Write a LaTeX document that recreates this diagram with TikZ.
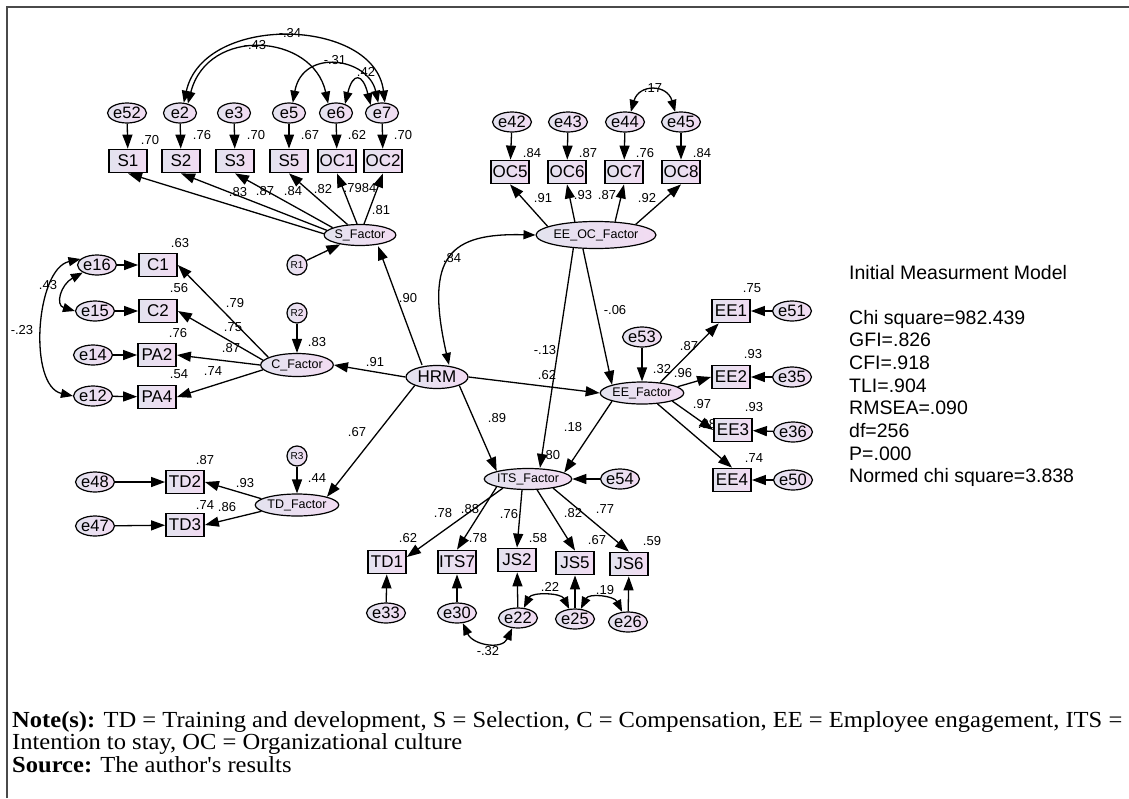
\documentclass[tikz,border=0pt]{standalone}
\usepackage{fontspec}
\usepackage{graphicx}
\setmainfont{Liberation Sans}
\newfontfamily\notefont{Liberation Serif}
\usetikzlibrary{arrows.meta,shapes.geometric}

\definecolor{fillL}{HTML}{E3E3EF}
\definecolor{fillR}{HTML}{F2DBF2}
\definecolor{framegray}{HTML}{4A4A4A}

\tikzset{
  nodebase/.style={draw=black, left color=fillL, right color=fillR, inner sep=0pt, line width=1.2pt},
  obs/.style={nodebase, rectangle, line width=1.8pt, minimum width=38pt, minimum height=23pt,
              font=\fontsize{17}{18}\selectfont},
  err/.style={nodebase, ellipse, minimum width=33pt, minimum height=20pt,
              font=\fontsize{16.5}{17}\selectfont},
  errw/.style={err, minimum width=38pt},
  lat/.style={nodebase, ellipse, minimum width=58pt, minimum height=22pt,
              font=\fontsize{12.5}{13}\selectfont},
  res/.style={nodebase, circle, minimum size=20pt, font=\fontsize{10}{11}\selectfont},
  lbl/.style={inner sep=0pt, font=\fontsize{13}{14}\selectfont},
  reg/.style={line width=1.3pt, -{Triangle[length=14pt,width=10pt]}},
  cov/.style={line width=1.3pt, {Triangle[length=12pt,width=9pt]}-{Triangle[length=12pt,width=9pt]}},
  stat/.style={anchor=base west, inner sep=0pt, font=\fontsize{19.5}{22}\selectfont},
}

\begin{document}
\begin{tikzpicture}[x=1pt,y=-1pt]
\useasboundingbox (0,0) rectangle (1129,798);
\fill[white] (0,0) rectangle (1129,798);
\draw[framegray, line width=2pt] (6.5,798) -- (6.5,7) -- (1129,7);

% label partly hidden behind EE3
\node[lbl] (l98) at (707,424) {.98};

% ---- Selection block
\node[err] (e52) at (127,113) {e52};
\node[err] (e2)  at (180,113) {e2};
\node[err] (e3)  at (234,113) {e3};
\node[err] (e5)  at (289,113) {e5};
\node[err] (e6)  at (336,113) {e6};
\node[err] (e7)  at (382,113) {e7};
\node[obs] (S1)  at (128,161) {S1};
\node[obs] (S2)  at (181,161) {S2};
\node[obs] (S3)  at (235,161) {S3};
\node[obs] (S5)  at (289,161) {S5};
\node[obs] (OC1) at (337,161) {OC1};
\node[obs] (OC2) at (383,161) {OC2};
\node[lat, minimum width=57pt, minimum height=21pt] (SF) at (360,235) {S\_Factor};
\node[res] (R1) at (297,265) {R1};

% ---- Compensation block
\node[errw] (e16) at (97,265) {e16};
\node[errw] (e15) at (95,311) {e15};
\node[errw] (e14) at (93,355) {e14};
\node[errw] (e12) at (93,396) {e12};
\node[obs] (C1)  at (158,265) {C1};
\node[obs] (C2)  at (158,311) {C2};
\node[obs] (PA2) at (157,355) {PA2};
\node[obs] (PA4) at (157,397) {PA4};
\node[lat, minimum height=23pt] (CF) at (297,365) {C\_Factor};
\node[res] (R2) at (297,313) {R2};

% ---- Training block
\node[err, minimum width=35pt] (e48) at (95,482) {e48};
\node[err, minimum width=35pt] (e47) at (95,526) {e47};
\node[obs] (TD2) at (185,482) {TD2};
\node[obs] (TD3) at (185,525) {TD3};
\node[lat, minimum width=60pt, minimum height=22pt] (TDF) at (297,505) {TD\_Factor};
\node[res] (R3) at (297,456) {R3};

% ---- HRM
\node[lat, minimum width=62pt, minimum height=23pt, font=\fontsize{17}{18}\selectfont] (HRM) at (437,377) {HRM};

% ---- Culture block
\node[err] (e42) at (512,122) {e42};
\node[err] (e43) at (568,122) {e43};
\node[err] (e44) at (625,122) {e44};
\node[err] (e45) at (681,122) {e45};
\node[obs] (OC5) at (510,172) {OC5};
\node[obs] (OC6) at (567,172) {OC6};
\node[obs] (OC7) at (624,172) {OC7};
\node[obs] (OC8) at (681,172) {OC8};
\node[lat, minimum width=84pt, minimum height=27pt] (EEOC) at (596,235) {EE\_OC\_Factor};

% ---- Engagement block
\node[lat] (EEF) at (642,393) {EE\_Factor};
\node[err] (e53) at (642,337) {e53};
\node[obs] (EE1) at (731,311) {EE1};
\node[obs] (EE2) at (731,377) {EE2};
\node[obs] (EE3) at (733,430) {EE3};
\node[obs] (EE4) at (732,480) {EE4};
\node[err] (e51) at (792,311) {e51};
\node[err] (e35) at (792,377) {e35};
\node[err] (e36) at (793,432) {e36};
\node[err] (e50) at (793,480) {e50};

% ---- Intention to stay block
\node[lat, minimum width=62pt, minimum height=21pt] (ITS) at (528,479) {ITS\_Factor};
\node[err] (e54) at (620,479) {e54};
\node[obs] (TD1)  at (387,562) {TD1};
\node[obs] (ITS7) at (457,562) {ITS7};
\node[obs] (JS2)  at (517,560) {JS2};
\node[obs] (JS5)  at (575,563) {JS5};
\node[obs] (JS6)  at (629,564) {JS6};
\node[err] (e33) at (386,613) {e33};
\node[err] (e30) at (457,613) {e30};
\node[err] (e22) at (518,618) {e22};
\node[err] (e25) at (575,619) {e25};
\node[err] (e26) at (628,622) {e26};

% ---- error terms to indicators
\foreach \e/\v in {e52/S1,e2/S2,e3/S3,e5/S5,e6/OC1,e7/OC2,
                   e16/C1,e15/C2,e14/PA2,e12/PA4,e48/TD2,e47/TD3,
                   e42/OC5,e43/OC6,e44/OC7,e45/OC8,
                   e51/EE1,e35/EE2,e36/EE3,e50/EE4,
                   e33/TD1,e30/ITS7,e22/JS2,e25/JS5,e26/JS6}
  \draw[reg] (\e) -- (\v);

% ---- loadings
\draw[reg] (SF.178) -- (S1.south);
\draw[reg] (SF.172) -- (S2.south);
\draw[reg] (SF.165) -- (S3.south);
\draw[reg] (SF.140) -- (S5.south);
\draw[reg] (SF.105) -- (OC1.south);
\draw[reg] (SF.70)  -- (OC2.south);
\draw[reg] (R1) -- (SF);

\draw[reg] (CF.165) -- (C1.east);
\draw[reg] (CF.172) -- (C2.east);
\draw[reg] (CF.west) -- (PA2.east);
\draw[reg] (CF.188) -- (PA4.east);
\draw[reg] (R2) -- (CF);

\draw[reg] (TDF.170) -- (TD2.east);
\draw[reg] (TDF.190) -- (TD3.east);
\draw[reg] (R3) -- (TDF);

\draw[reg] (EEOC.170) -- (OC5.south);
\draw[reg] (EEOC.148) -- (OC6.south);
\draw[reg] (EEOC.35)  -- (OC7.south);
\draw[reg] (EEOC.15)  -- (OC8.south);

\draw[reg] (EEF.30)  -- (EE1);
\draw[reg] (EEF.10)  -- (EE2.west);
\draw[reg] (EEF.-15) -- (EE3.west);
\draw[reg] (EEF.-35) -- (EE4.north);
\draw[reg] (e53) -- (EEF);

\draw[reg] (ITS.200) -- ([yshift=5pt]TD1.east);
\draw[reg] (ITS.south west) -- (ITS7.north);
\draw[reg] ([xshift=-6pt]ITS.south) -- (JS2.north);
\draw[reg] (ITS.-50) -- (JS5.north);
\draw[reg] (ITS.-20) -- (JS6.north);
\draw[reg] (e54) -- (ITS);

% ---- structural paths
\draw[reg] ([xshift=-15pt]HRM.north) -- ([xshift=18pt]SF.south);
\draw[reg] (HRM.west) -- (CF.east);
\draw[reg] (HRM.south west) -- (TDF.north east);
\draw[reg] (HRM.east) -- (EEF.west);
\draw[reg] (HRM.south east) -- (ITS.north west);
\draw[reg] (EEOC.-150) -- ([xshift=12pt]ITS.north);
\draw[reg] ([xshift=-13pt]EEOC.south) -- (EEF.north west);
\draw[reg] (EEF.south west) -- (ITS.10);

% ---- covariances
\draw[cov] (e2.70) .. controls +(20,-90) and +(-10,-85) .. (e7.75);
\draw[cov] (e2.50) .. controls +(20,-78) and +(-15,-70) .. (e6.130);
\draw[cov] (e5.70) .. controls +(10,-55) and +(-10,-45) .. (e7.110);
\draw[cov] (e6.45) .. controls +(8,-32) and +(-8,-32) .. (e7.145);
\draw[cov] (e44.60) .. controls +(8,-28) and +(-8,-28) .. (e45.120);
\draw[cov] (e16.south west) .. controls +(-22,12) and +(-20,-6) .. (e15.west);
\draw[cov] (e16.160) .. controls +(-45,10) and +(-45,-10) .. (e12.west);
\draw[cov] (e30.-60) .. controls +(10,22) and +(-10,22) .. (e22.-120);
\draw[cov] (e22.60) .. controls +(8,-16) and +(-8,-16) .. (e25.120);
\draw[cov] (e25.60) .. controls +(8,-16) and +(-8,-16) .. (e26.120);
\draw[cov] ([xshift=12pt]HRM.north) .. controls +(-25,-110) and +(-85,-2) .. (EEOC.west);

% ---- coefficient labels
\foreach \x/\y/\t [count=\i] in {
  150/140/.70, 202/135/.76, 256/135/.70, 310/135/.67, 357/135/.62, 403/135/.70,
  238/192/.83, 265/191/.87, 293/191/.84, 323/189/.82, 360/188/.7984, 381/210/.81,
  290/33/-.34, 255/45/-.43, 335/60/-.31, 366/72/.42,
  180/243/.63, 179/288/.56, 178/333/.76, 179/374/.54,
  235/303/.79, 233/327/.75, 231/348/.87, 213/371/.74, 317/342/.83,
  48/285/.43, 22/330/-.23,
  205/460/.87, 245/483/.93, 205/505/.74, 227/507/.86, 317/478/.44,
  408/298/.90, 375/362/.91, 357/432/.67, 547/375/.62, 497/418/.89, 452/258/.84,
  532/153/.84, 588/153/.87, 645/153/.76, 702/153/.84,
  543/198/.91, 583/195/.93, 607/195/.87, 647/198/.92, 653/88/.17,
  545/350/-.13, 615/310/-.06,
  662/369/.32, 689/346/.87, 683/373/.96, 702/404/.97,
  752/288/.75, 753/354/.93, 754/407/.93, 754/458/.74, 573/427/.18,
  551/455/.80, 408/538/.62, 478/538/.78, 538/538/.58, 597/540/.67, 652/541/.59,
  443/513/.78, 470/509/.88, 509/514/.76, 573/513/.82, 605/509/.77,
  488/651/-.32, 550/587/.22, 605/590/.19}
  \node[lbl] (lab\i) at (\x,\y) {\t};

% ---- fit statistics
\node[stat] (st1) at (849,279) {Initial Measurment Model};
\node[stat] (st2) at (849,324) {Chi square=982.439};
\node[stat] (st3) at (849,346.7) {GFI=.826};
\node[stat] (st4) at (849,369.4) {CFI=.918};
\node[stat] (st5) at (849,392.1) {TLI=.904};
\node[stat] (st6) at (849,414.8) {RMSEA=.090};
\node[stat] (st7) at (849,437.5) {df=256};
\node[stat] (st8) at (849,460.2) {P=.000};
\node[stat] (st9) at (849,482.9) {Normed chi square=3.838};

% ---- note below the figure
\node[anchor=base west, inner sep=0pt] (note) at (12,727)
  {\resizebox{1110pt}{\height}{\notefont\fontsize{23}{22}\selectfont
   \begin{tabular}[t]{@{}l@{}}
   \textbf{Note(s):} TD = Training and development, S = Selection, C = Compensation, EE = Employee engagement, ITS =\\
   Intention to stay, OC = Organizational culture\\
   \textbf{Source:} The author's results
   \end{tabular}}};
\end{tikzpicture}
\end{document}
